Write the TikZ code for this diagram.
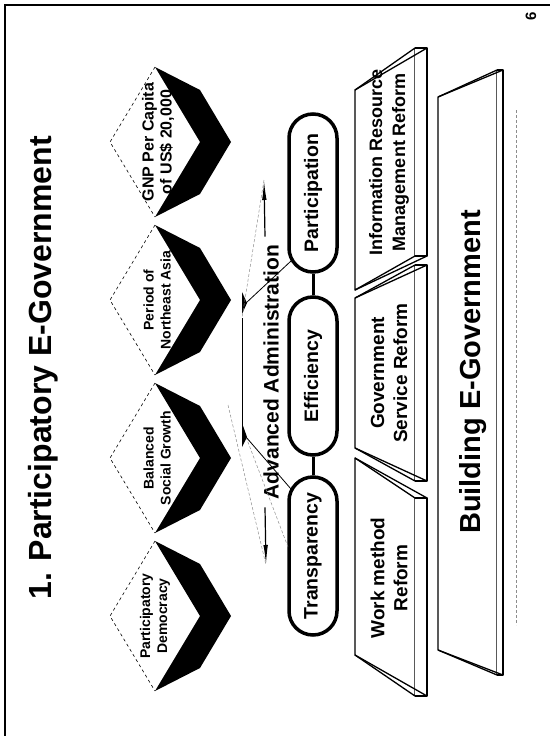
\documentclass[tikz,border=0pt]{standalone}
\usepackage{fontspec}
\setmainfont{Liberation Sans}
\usetikzlibrary{arrows.meta,positioning}
\definecolor{scangray}{RGB}{140,140,140}
% one goal gem: dashed left half, black chevron on the right
\newcommand{\goalgem}[1]{%
  \fill[black] (155,#1-75) -- (200,#1-52) -- (231,#1) -- (200,#1+52) -- (155,#1+75) -- (200,#1) -- cycle;
  \draw[gemedge] (155,#1-75) -- (110,#1) -- (155,#1+75);
}
% slab: xl, xr, top-left y, bottom-left y, top-right y, bottom-right y, side
\newcommand{\reformslab}[7]{%
  \draw[slab] (#1,#3) -- (#1,#4) -- (#2,#6) -- (#2,#5) -- cycle;
  \draw[slab] (#2,#5) -- (#2+#7,#5) -- (#2+#7,#6) -- (#2,#6);
  \draw[slab, fill=none] (#1,#3) -- (#2+#7,#5);
  \draw[slab, fill=none] (#1,#4) -- (#2+#7,#6);
}
\tikzset{
  goal/.style   ={rotate=90, align=center, inner sep=0pt,
                  font=\fontsize{14}{17}\selectfont\bfseries},
  value/.style  ={rectangle, rounded corners=24pt, draw, line width=3.5pt, fill=white,
                  rotate=90, minimum width=158pt, minimum height=48pt,
                  font=\fontsize{19.5}{23}\selectfont\bfseries},
  reform/.style ={rotate=90, align=center, inner sep=0pt,
                  font=\fontsize{19}{23}\selectfont\bfseries},
  slab/.style   ={draw, line width=1.3pt, fill=white, line join=round},
  gemedge/.style={dashed, line width=0.6pt},
  tie/.style    ={line width=3pt},
  fanline/.style={draw=scangray, line width=0.5pt, dash pattern=on 3pt off 2pt},
  adv/.style    ={line width=1.2pt, -{Latex[length=20pt,width=4.5pt]}},
}
\begin{document}
\begin{tikzpicture}[x=1pt,y=-1pt]
\useasboundingbox (0,0) rectangle (550,736);
\draw[line width=2pt] (5,736) -- (5,5) -- (550,5);
\node[rotate=90, font=\fontsize{15}{18}\selectfont\bfseries] (pg) at (531,16) {6};
\node[rotate=90, font=\fontsize{32}{38}\selectfont\bfseries] (title) at (43,368) {1. Participatory E-Government};

% goals
\node[goal] (g1) at (155,616) {Participatory\\Democracy};
\node[goal] (g2) at (157,458) {Balanced\\Social Growth};
\node[goal] (g3) at (157,300) {Period of\\Northeast Asia};
\node[goal, font=\fontsize{16}{18}\selectfont\bfseries] (g4) at (158,142) {GNP Per Capita\\of US\$ 20,000};
\goalgem{616}
\goalgem{458}
\goalgem{300}
\goalgem{142}

% advanced administration
\node[rotate=90, inner sep=0pt, font=\fontsize{21}{25}\selectfont\bfseries] (adv) at (271,372) {Advanced Administration};
\coordinate (advlo) at (266,565);
\coordinate (advhi) at (264,180);
\draw[adv] ([shift={(-6,8)}]adv.west) -- (advlo);
\draw[adv] ([shift={(-6,-8)}]adv.east) -- (advhi);

% values
\node[value] (part) at (313,193) {Participation};
\node[value] (effi) at (313,376) {Efficiency};
\node[value] (trans) at (313,556) {Transparency};
\draw[tie] (part) -- (effi);
\draw[tie] (effi) -- (trans);

% fan
\coordinate (w1) at (246,303);
\coordinate (w2) at (246,437);
\coordinate (pin1) at (291,261);
\coordinate (pin2) at (291,489);
\fill (242,292) -- (247,303) -- (242,314) -- cycle;
\fill (242,423) -- (247,437) -- (242,447) -- cycle;
\draw[line width=0.5pt] (242,318) -- (242,445);
\draw[fanline] (advhi) -- (242,318);
\draw[fanline] (228,405) -- (advlo);
\draw[fanline] (w2) -- (288,547);
\draw[line width=0.8pt] (w1) -- (pin1);
\draw[line width=0.8pt] (w2) -- (pin2);

% reforms
\reformslab{355}{415}{90}{290}{48}{256}{12}
\reformslab{355}{415}{298}{448}{265}{481}{12}
\reformslab{355}{415}{458}{655}{498}{696}{12}
\node[reform, font=\fontsize{18}{23}\selectfont\bfseries] (irm) at (389,162) {Information Resource\\Management Reform};
\node[reform] (gsr) at (389,373) {Government\\Service Reform};
\node[reform] (wmr) at (389,578) {Work method\\Reform};

% base
\reformslab{438}{497}{97}{650}{70}{675}{6}
\node[rotate=90, inner sep=0pt, font=\fontsize{29}{34}\selectfont\bfseries] (bldg) at (473,372) {Building E-Government};
\draw[fanline] (516,110) -- (516,625);
\end{tikzpicture}
\end{document}
